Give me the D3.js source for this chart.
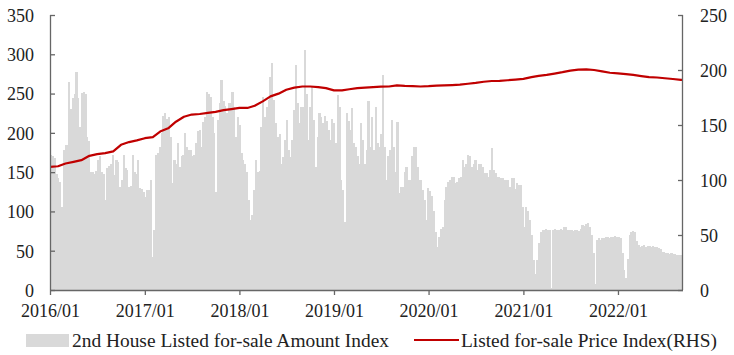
<!DOCTYPE html>
<html>
<head>
<meta charset="utf-8">
<script src="https://cdn.jsdelivr.net/npm/d3@7"></script>
<style>
  html, body { margin: 0; padding: 0; background: #fff; }
  svg { display: block; }
  text { font-family: "Liberation Serif", "Times New Roman", serif; fill: #222; }
</style>
</head>
<body>
<svg id="chart" width="734" height="355"></svg>
<script>
// ---- Data ----
const seriesNames = ["2nd House Listed for-sale Amount Index", "Listed for-sale Price Index(RHS)"];
const firstWeek = "2016-01-01";           // first weekly bar
const weeksCount = 349;                   // number of weekly bars

// weekly 2nd-house listed amount index (left axis)
const amountIndex = [
  // 2016
  172,170,168,148,142,138,106,178,184,185,
  265,230,244,250,277,245,208,251,252,250,
  195,190,150,150,148,152,165,170,150,148,
  114,155,158,160,172,147,165,163,131,140,
  172,155,153,131,133,172,150,148,165,130,
  128,125,118,
  // 2017
  127,127,140,42,76,172,175,182,200,222,
  225,218,220,195,136,165,161,187,157,170,
  172,200,182,178,178,170,172,187,203,204,
  182,214,220,252,250,246,220,200,125,216,
  238,267,240,234,225,238,238,252,233,195,
  220,210,
  // 2018
  174,165,160,150,115,89,95,127,165,150,
  152,208,246,220,233,242,271,289,242,212,
  195,199,161,169,191,216,178,169,191,229,
  286,238,212,233,233,305,250,191,233,258,
  216,157,195,225,220,212,221,215,204,191,
  218,212,187,
  // 2019
  248,233,140,127,87,225,215,204,232,187,
  182,170,161,212,191,161,178,240,182,220,
  178,233,187,182,199,274,182,140,170,178,
  216,182,150,214,123,131,131,150,157,140,
  140,170,182,182,157,140,140,127,115,89,
  130,126,
  // 2020
  120,100,74,55,68,78,80,115,131,138,
  140,144,144,136,138,142,144,165,157,160,
  172,170,157,160,165,153,161,161,157,149,
  149,144,153,181,153,149,144,144,142,142,
  140,140,140,131,142,142,128,136,134,134,
  106,80,106,
  // 2021
  100,89,70,38,20,38,60,74,76,77,
  78,77,76,3,77,78,77,76,78,77,
  80,80,77,76,77,75,76,76,75,78,
  83,82,84,85,80,70,47,8,64,66,
  64,66,66,67,68,66,67,68,69,68,
  68,66,
  // 2022
  47,25,15,40,70,74,75,74,62,57,
  55,56,57,55,56,56,55,56,55,55,
  54,52,48,49,47,47,46,47,46,46,
  45,45,44,45
];

// monthly listed price index (right axis)
const priceDates = [
  "2016-01-01","2016-02-01","2016-03-01","2016-04-01","2016-05-01","2016-06-01","2016-07-01","2016-08-01","2016-09-01","2016-10-01","2016-11-01","2016-12-01",
  "2017-01-01","2017-02-01","2017-03-01","2017-04-01","2017-05-01","2017-06-01","2017-07-01","2017-08-01","2017-09-01","2017-10-01","2017-11-01","2017-12-01",
  "2018-01-01","2018-02-01","2018-03-01","2018-04-01","2018-05-01","2018-06-01","2018-07-01","2018-08-01","2018-09-01","2018-10-01","2018-11-01","2018-12-01",
  "2019-01-01","2019-02-01","2019-03-01","2019-04-01","2019-05-01","2019-06-01","2019-07-01","2019-08-01","2019-09-01","2019-10-01","2019-11-01","2019-12-01",
  "2020-01-01","2020-02-01","2020-03-01","2020-04-01","2020-05-01","2020-06-01","2020-07-01","2020-08-01","2020-09-01","2020-10-01","2020-11-01","2020-12-01",
  "2021-01-01","2021-02-01","2021-03-01","2021-04-01","2021-05-01","2021-06-01","2021-07-01","2021-08-01","2021-09-01","2021-10-01","2021-11-01","2021-12-01",
  "2022-01-01","2022-02-01","2022-03-01","2022-04-01","2022-05-01","2022-06-01","2022-07-01","2022-08-01","2022-09-01","2022-09-09"
];
const priceIndex = [
  112,112.5,115,116.5,118,122,123.5,124.5,126,132,134.5,136,
  138,139,144,147,153,157.5,159.5,160,161,162,163.5,164.5,
  165.5,165.5,167.5,171.5,176,178.5,182,184,185,185,184.5,183.5,
  181.5,181.5,182.5,183.5,184,184.5,184.8,185,186,185.5,185.3,185,
  185.3,185.8,186,186.3,186.7,187.5,188.3,189.3,190,190.2,190.7,191.3,
  192,193.5,194.7,195.5,196.7,198,199.5,200.3,200.5,200,198.7,197.5,
  197,196.3,195.5,194.5,193.5,193.2,192.5,191.8,191,191
];

const xTickDates = ["2016-01-01","2017-01-01","2018-01-01","2019-01-01","2020-01-01","2021-01-01","2022-01-01"];
const xTickLabels = ["2016/01","2017/01","2018/01","2019/01","2020/01","2021/01","2022/01"];
const leftTicks = [0,50,100,150,200,250,300,350];
const rightTicks = [0,50,100,150,200,250];

// ---- Build ----
const parse = d3.timeParse("%Y-%m-%d");
const start = parse(firstWeek);
const weekDates = d3.range(weeksCount).map(i => d3.timeDay.offset(start, i * 7));
const endDate = d3.timeDay.offset(start, weeksCount * 7);

const svg = d3.select("#chart");
const plot = { left: 50, right: 683, top: 15, bottom: 290 };

const x = d3.scaleTime().domain([start, endDate]).range([plot.left, plot.right]);
const yL = d3.scaleLinear().domain([0, 350]).range([plot.bottom, plot.top]);
const yR = d3.scaleLinear().domain([0, 250]).range([plot.bottom, plot.top]);

// bars
const bars = amountIndex.map((v, i) => ({ d: weekDates[i], v }));
svg.append("g")
  .attr("shape-rendering", "crispEdges")
  .selectAll("rect").data(bars).join("rect")
  .attr("x", b => x(b.d))
  .attr("width", b => Math.max(0.5, x(d3.timeDay.offset(b.d, 7)) - x(b.d) + 0.4))
  .attr("y", b => yL(b.v))
  .attr("height", b => yL(0) - yL(b.v))
  .attr("fill", "#d9d9d9");

// price line
const pts = priceIndex.map((v, i) => ({ d: parse(priceDates[i]), v }));
svg.append("path")
  .datum(pts)
  .attr("fill", "none")
  .attr("stroke", "#c00000")
  .attr("stroke-width", 2.2)
  .attr("stroke-linejoin", "round")
  .attr("d", d3.line().x(p => x(p.d)).y(p => yR(p.v)));

// axes
const axisColor = "#666666";
const fs = 18;

const gL = svg.append("g").attr("transform", `translate(${plot.left},0)`)
  .call(d3.axisRight(yL).tickValues(leftTicks).tickSize(5).tickFormat(d3.format("d")));
gL.selectAll("text").remove();
gL.selectAll(".tick").append("text")
  .attr("x", -16).attr("dy", "0.35em").attr("text-anchor", "end")
  .style("font-size", fs + "px").text(d => d);

const gR = svg.append("g").attr("transform", `translate(${plot.right},0)`)
  .call(d3.axisLeft(yR).tickValues(rightTicks).tickSize(5).tickFormat(d3.format("d")));
gR.selectAll("text").remove();
gR.selectAll(".tick").append("text")
  .attr("x", 17).attr("dy", "0.35em").attr("text-anchor", "start")
  .style("font-size", fs + "px").text(d => d);

const gX = svg.append("g").attr("transform", `translate(0,${plot.bottom})`)
  .call(d3.axisBottom(x).tickValues(xTickDates.map(parse)).tickSize(5)
    .tickFormat((d, i) => xTickLabels[i]));
gX.selectAll("text").attr("dy", null).attr("y", 27)
  .style("font-size", fs + "px").attr("fill", "#222");

[gL, gR, gX].forEach(g => {
  g.select(".domain").attr("stroke", axisColor).attr("stroke-width", 1.3);
  g.selectAll(".tick line").attr("stroke", axisColor).attr("stroke-width", 1.3);
  g.selectAll("text").attr("font-family", "Liberation Serif, Times New Roman, serif").attr("fill", "#222");
});
gX.select(".domain").attr("d", `M${plot.left},0.5H${plot.right}`);
gL.select(".domain").attr("d", `M0.5,${plot.top}V${plot.bottom}`);
gR.select(".domain").attr("d", `M-0.5,${plot.top}V${plot.bottom}`);

// legend
const lg = svg.append("g");
lg.append("rect").attr("x", 26).attr("y", 334).attr("width", 43).attr("height", 13).attr("fill", "#d9d9d9");
lg.append("text").attr("x", 72).attr("y", 347).style("font-size", fs + "px")
  .attr("textLength", 317).attr("lengthAdjust", "spacingAndGlyphs").text(seriesNames[0]);
lg.append("line").attr("x1", 414).attr("x2", 459).attr("y1", 340).attr("y2", 340)
  .attr("stroke", "#c00000").attr("stroke-width", 2.2);
lg.append("text").attr("x", 461).attr("y", 347).style("font-size", fs + "px")
  .attr("textLength", 256).attr("lengthAdjust", "spacingAndGlyphs").text(seriesNames[1]);
</script>
</body>
</html>
